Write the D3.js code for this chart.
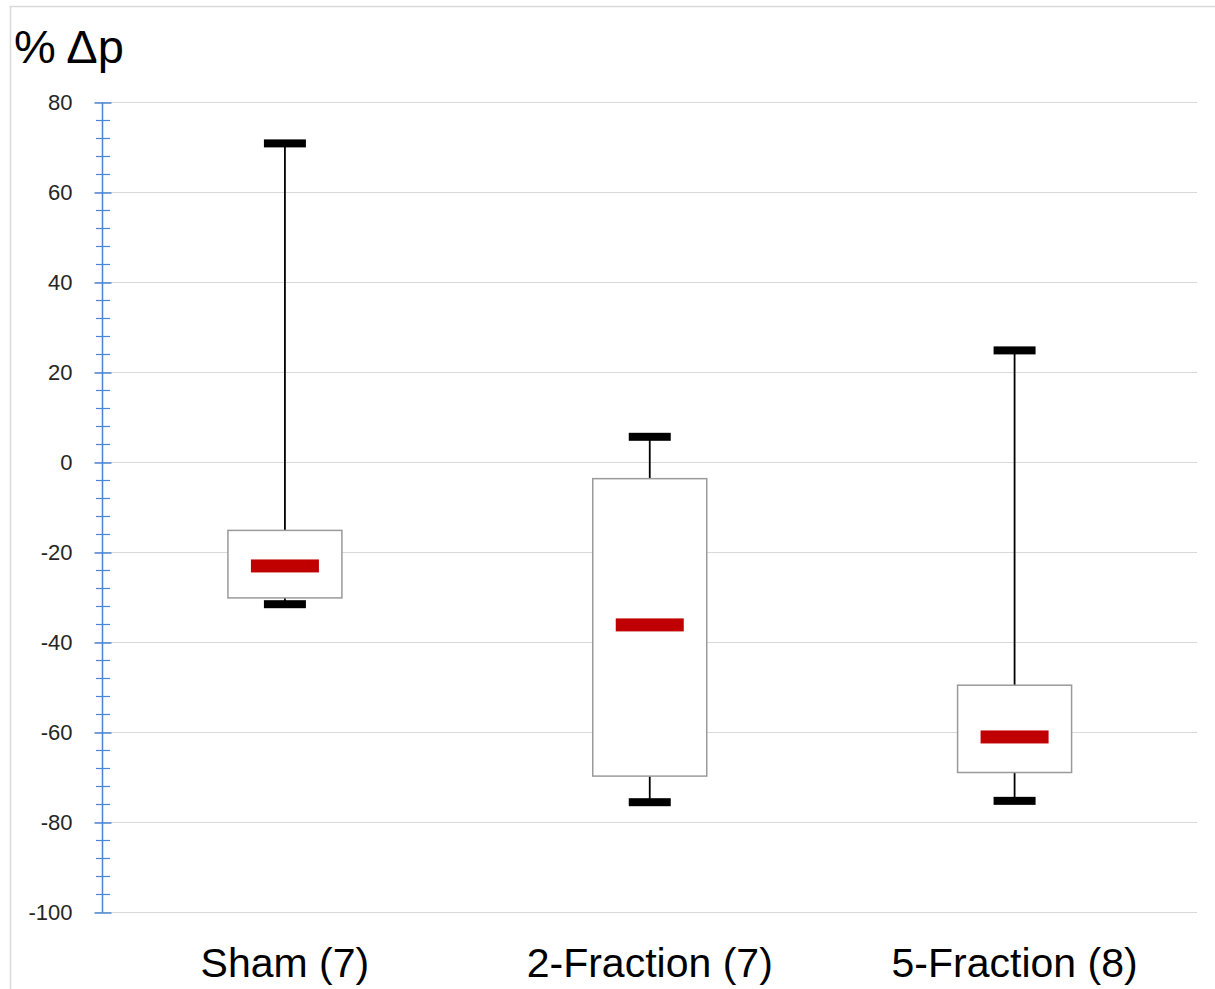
<!DOCTYPE html>
<html lang="en">
<head>
    <meta charset="UTF-8">
    <script src="https://cdn.jsdelivr.net/npm/d3@7.8.5/dist/d3.min.js"></script>
    <title>% Δp box plot</title>
    <style>
        body { margin: 0; background: #fff; }
        text { font-family: "Liberation Sans", Arial, sans-serif; }
    </style>
</head>
<body>
    <svg width="1215" height="989"></svg>
    <script>
        // data
        var categories = ["Sham (7)", "2-Fraction (7)", "5-Fraction (8)"];
        var maxVals = [70.8, 5.6, 24.8];
        var q3Vals = [-15.2, -3.7, -49.6];
        var medianVals = [-23.1, -36.2, -61.1];
        var q1Vals = [-30.2, -69.8, -69];
        var minVals = [-31.6, -75.6, -75.3];
        var yTicks = [80, 60, 40, 20, 0, -20, -40, -60, -80, -100];

        var svg = d3.select("svg");
        var plotLeft = 102.5, plotRight = 1197, plotTop = 102, plotBottom = 912;

        // frame
        svg.append("path")
            .attr("d", "M10.5,989 V6.5 H1215")
            .attr("fill", "none").attr("stroke", "#d9d9d9").attr("stroke-width", 1.5);

        var y = d3.scaleLinear().domain([-100, 80]).range([plotBottom, plotTop]);
        var x = d3.scaleBand().domain(categories).range([plotLeft, plotRight]);

        // gridlines
        svg.append("g").selectAll("line")
            .data(yTicks).enter().append("line")
            .attr("x1", 95).attr("x2", plotRight)
            .attr("y1", function(d){ return y(d) + 0.5; })
            .attr("y2", function(d){ return y(d) + 0.5; })
            .attr("stroke", "#d9d9d9").attr("stroke-width", 1.2);

        // minor ticks every 4
        var minor = d3.range(-100, 81, 4).filter(function(d){ return d % 20 !== 0; });
        svg.append("g").selectAll("line")
            .data(minor).enter().append("line")
            .attr("x1", 96).attr("x2", 110)
            .attr("y1", function(d){ return y(d) + 0.5; })
            .attr("y2", function(d){ return y(d) + 0.5; })
            .attr("stroke", "#4a86d0").attr("stroke-width", 1.2);

        // y axis
        var axis = svg.append("g")
            .attr("transform", "translate(" + plotLeft + ",0.5)")
            .call(d3.axisLeft(y).tickValues(yTicks).tickSize(8).tickPadding(22)
                .tickFormat(function(d){ return String(d); }));
        axis.select(".domain").attr("stroke", "#4a86d0").attr("stroke-width", 1.5).attr("d", "M0," + plotTop + "V" + plotBottom);
        axis.selectAll(".tick line").attr("x1", -8).attr("x2", 9).attr("stroke", "#4a86d0").attr("stroke-width", 1.5);
        axis.selectAll(".tick text").attr("font-size", 22).attr("fill", "#262626")
            .style("font-family", "'Liberation Sans', Arial, sans-serif");

        // y title
        svg.append("text").attr("x", 14).attr("y", 63)
            .attr("font-size", 47).attr("fill", "#000").text("% Δp");

        // category labels
        svg.append("g").selectAll("text")
            .data(categories).enter().append("text")
            .attr("x", function(d){ return x(d) + x.bandwidth() / 2; })
            .attr("y", 977)
            .attr("text-anchor", "middle")
            .attr("font-size", 41).attr("fill", "#000")
            .text(function(d){ return d; });

        var boxW = 114, capW = 42, medW = 68;
        var groups = svg.append("g").selectAll("g")
            .data(categories).enter().append("g")
            .attr("transform", function(d){ return "translate(" + (x(d) + x.bandwidth() / 2) + ",0)"; });

        // whiskers
        groups.append("line")
            .attr("x1", 0).attr("x2", 0)
            .attr("y1", function(d, i){ return y(maxVals[i]); })
            .attr("y2", function(d, i){ return y(q3Vals[i]); })
            .attr("stroke", "#000").attr("stroke-width", 1.8);
        groups.append("line")
            .attr("x1", 0).attr("x2", 0)
            .attr("y1", function(d, i){ return y(q1Vals[i]); })
            .attr("y2", function(d, i){ return y(minVals[i]); })
            .attr("stroke", "#000").attr("stroke-width", 1.8);

        // boxes
        groups.append("rect")
            .attr("x", -boxW / 2)
            .attr("y", function(d, i){ return y(q3Vals[i]); })
            .attr("width", boxW)
            .attr("height", function(d, i){ return y(q1Vals[i]) - y(q3Vals[i]); })
            .attr("fill", "#fff").attr("stroke", "#9a9a9a").attr("stroke-width", 1.5);

        // caps
        groups.append("rect")
            .attr("x", -capW / 2).attr("width", capW).attr("height", 8)
            .attr("y", function(d, i){ return y(maxVals[i]) - 4; })
            .attr("fill", "#000");
        groups.append("rect")
            .attr("x", -capW / 2).attr("width", capW).attr("height", 8)
            .attr("y", function(d, i){ return y(minVals[i]) - 4; })
            .attr("fill", "#000");

        // medians
        groups.append("rect")
            .attr("x", -medW / 2).attr("width", medW).attr("height", 13)
            .attr("y", function(d, i){ return y(medianVals[i]) - 6.5; })
            .attr("fill", "#c00000");
    </script>
</body>
</html>
